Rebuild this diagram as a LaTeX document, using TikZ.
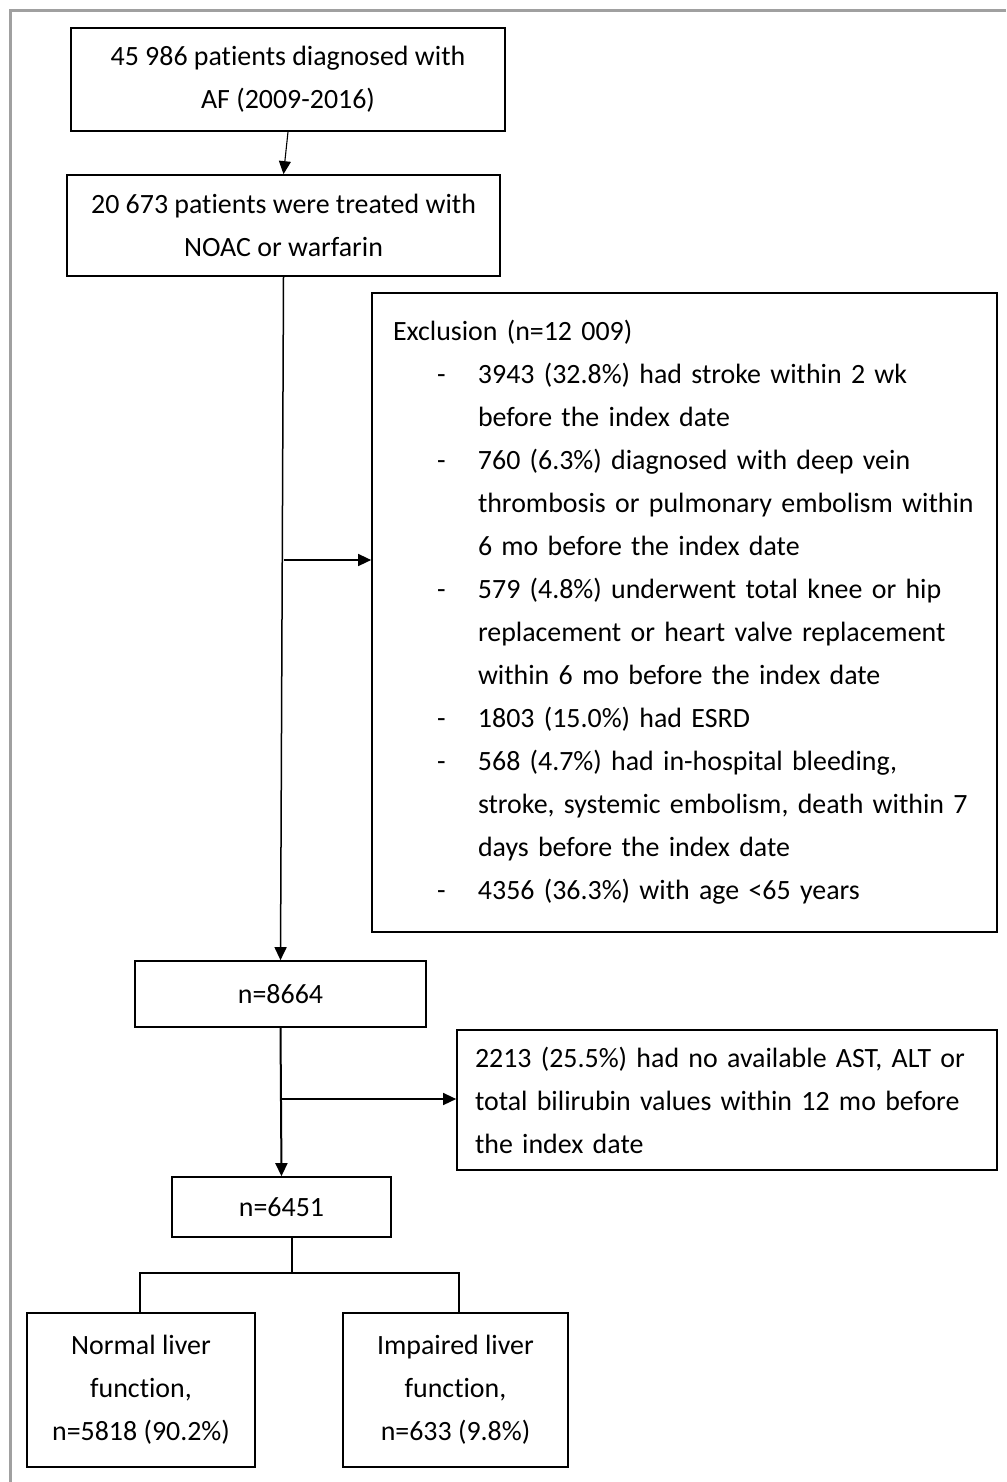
\documentclass[tikz,border=0pt]{standalone}
\usepackage{fontspec}
\setmainfont{Carlito}[Ligatures={NoCommon}]
\usepackage{tikz}
\usetikzlibrary{arrows.meta}

\newcommand{\dashitem}{\hspace*{55pt}\makebox[41pt][l]{-}}
\newcommand{\contline}{\hspace*{96pt}}

\tikzset{
	flowbox/.style={shape=rectangle, draw, line width=1.7pt, align=center, inner sep=0pt},
	wire/.style={line width=1.5pt},
	arrowwire/.style={wire, -{Triangle[length=13pt, width=12pt]}},
}

\begin{document}
\begin{tikzpicture}[x=1pt, y=-1pt, font=\fontsize{27.9}{43}\selectfont]
	\useasboundingbox (0, 0) rectangle (1006, 1482);
	% Frame:
	\draw[line width=3pt, color={rgb,255:red,160;green,160;blue,160}] (10.5, 1482) -- (10.5, 10.5) -- (1006, 10.5);
	% Boxes:
	\node[flowbox, minimum width=434pt, minimum height=103pt](N1) at (288, 79.5){45 986 patients diagnosed with\\AF (2009-2016)};
	\node[flowbox, minimum width=433pt, minimum height=101pt](N2) at (283.5, 225.5){20 673 patients were treated with\\NOAC or warfarin};
	\node[flowbox, align=left, text width=605pt, inner xsep=10pt, minimum height=639pt](N3) at (684.5, 612.5){\hspace*{11pt}Exclusion (n=12 009)\\
		\dashitem 3943 (32.8\%) had stroke within 2 wk\\
		\contline before the index date\\
		\dashitem 760 (6.3\%) diagnosed with deep vein\\
		\contline thrombosis or pulmonary embolism within\\
		\contline 6 mo before the index date\\
		\dashitem 579 (4.8\%) underwent total knee or hip\\
		\contline replacement or heart valve replacement\\
		\contline within 6 mo before the index date\\
		\dashitem 1803 (15.0\%) had ESRD\\
		\dashitem 568 (4.7\%) had in-hospital bleeding,\\
		\contline stroke, systemic embolism, death within 7\\
		\contline days before the index date\\
		\dashitem 4356 (36.3\%) with age <65 years};
	\node[flowbox, minimum width=291pt, minimum height=66pt](N4) at (280.5, 994){n=8664};
	\node[flowbox, align=left, text width=504pt, inner xsep=18pt, minimum height=140pt](N5) at (727, 1100){2213 (25.5\%) had no available AST, ALT or\\total bilirubin values within 12 mo before\\the index date};
	\node[flowbox, minimum width=219pt, minimum height=60pt](N6) at (281.5, 1207){n=6451};
	\node[flowbox, minimum width=228pt, minimum height=154pt](N7) at (141, 1390){Normal liver\\function,\\n=5818 (90.2\%)};
	\node[flowbox, minimum width=225pt, minimum height=154pt](N8) at (455.5, 1390){Impaired liver\\function,\\n=633 (9.8\%)};
	% Wires:
	\draw[arrowwire, line width=1.1pt] (N1.south) -- (N2.north);
	\draw[arrowwire] (N2.south) -- (N4.north);
	\coordinate (B1) at (283.5, 560);
	\draw[arrowwire] (B1) -- (B1 -| N3.west);
	\draw[arrowwire, line width=2pt] (N4.south) -- (N6.north);
	\coordinate (B2) at (281, 1099);
	\draw[arrowwire] (B2) -- (B2 -| N5.west);
	\coordinate (S1) at (292, 1238);
	\coordinate (S2) at (292, 1273);
	\coordinate (L1) at (140, 1273);
	\coordinate (R1) at (459, 1273);
	\draw[wire] (S1) -- (S2);
	\draw[wire] (L1 |- N7.north) -- (L1) -- (R1) -- (R1 |- N8.north);
\end{tikzpicture}
\end{document}
